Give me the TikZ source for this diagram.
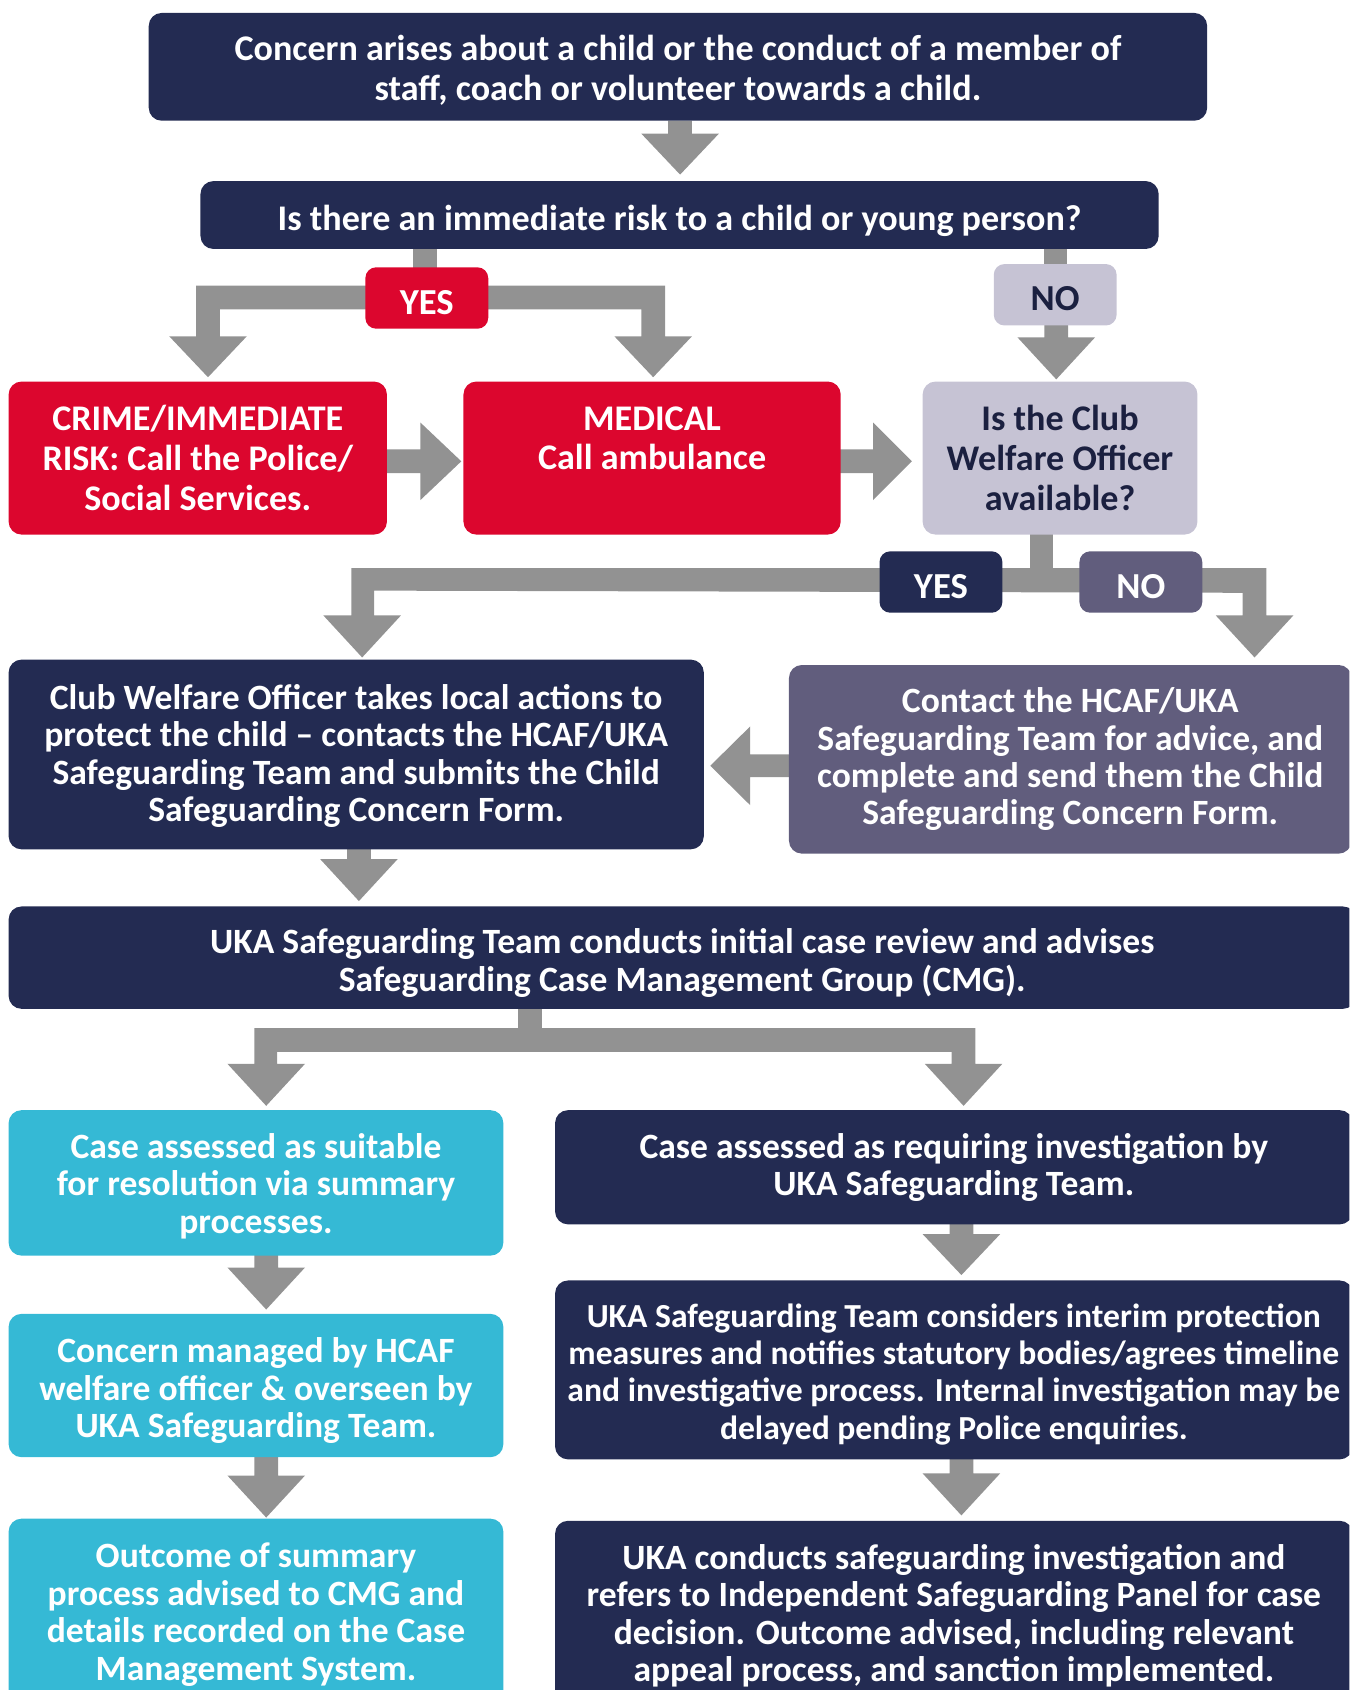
\documentclass[tikz,border=0pt]{standalone}
\usepackage{fontspec}
\setmainfont{Carlito}
\definecolor{navy}{HTML}{232B52}
\definecolor{ured}{HTML}{DC062E}
\definecolor{lav}{HTML}{C6C3D4}
\definecolor{purp}{HTML}{615D7D}
\definecolor{cyanb}{HTML}{35B9D5}
\definecolor{agray}{HTML}{929292}
\definecolor{darktxt}{HTML}{1B2040}
\newcommand{\darrow}[4]{\fill[agray] (#1-11,#2) -- (#1+11,#2) -- (#1+11,#3) -- (#1+36,#3) -- (#1,#4) -- (#1-36,#3) -- (#1-11,#3) -- cycle;}
\begin{document}
\begin{tikzpicture}[x=1pt,y=-1pt,
  box/.style={rounded corners=12pt, inner sep=0pt, align=center, text=white,
     font=\bfseries\fontsize{33}{34.7}\selectfont},
  bigbox/.style={box, font=\bfseries\fontsize{33.5}{37}\selectfont},
  badge/.style={box, rounded corners=10pt, minimum width=114pt, minimum height=57pt, font=\bfseries\fontsize{34}{37}\selectfont},
  btext/.style={inner sep=0pt, align=center, text=white, font=\bfseries\fontsize{33}{34.7}\selectfont},
  bigtext/.style={btext, font=\bfseries\fontsize{33.5}{37}\selectfont},
  badgetext/.style={btext, font=\bfseries\fontsize{34}{37}\selectfont}]
\useasboundingbox (0,0) rectangle (1252,1568);
\clip (0,0) rectangle (1252,1568);
% ---------- connectors (block arrows) ----------
\darrow{631}{112}{124}{162}
% YES branch
\fill[agray] (383,225) rectangle (405,260);
\fill[agray] (182,265) -- (617,265) -- (617,312) -- (642,312) -- (606,350) -- (570,312) -- (595,312) -- (595,287) -- (204,287) -- (204,312) -- (229,312) -- (193,350) -- (157,312) -- (182,312) -- cycle;
% NO branch
\fill[agray] (969,225) rectangle (990,260);
\darrow{980}{295}{313}{352}
% horizontal arrows in row
\fill[agray] (355,417) -- (390,417) -- (390,392) -- (428,428) -- (390,464) -- (390,439) -- (355,439) -- cycle;
\fill[agray] (776,417) -- (810,417) -- (810,392) -- (846,428) -- (810,464) -- (810,439) -- (776,439) -- cycle;
% CWO split
\fill[agray] (956,490) rectangle (977,540);
\fill[agray] (326,527) -- (1175,527) -- (1175,571) -- (1200,571) -- (1164,610) -- (1128,571) -- (1153,571) -- (1153,550) -- (347,548) -- (347,571) -- (372,571) -- (336,610) -- (300,571) -- (326,571) -- cycle;
% contact -> action
\fill[agray] (740,700) -- (696,700) -- (696,674) -- (659,710.5) -- (696,747) -- (696,721) -- (740,721) -- cycle;
\darrow{333}{784}{797}{836}
% review split
\fill[agray] (481,930) rectangle (503,960);
\fill[agray] (236,954) -- (905,954) -- (905,987) -- (930,987) -- (894,1026) -- (858,987) -- (883,987) -- (883,976) -- (257,976) -- (257,987) -- (283,987) -- (247,1026) -- (211,987) -- (236,987) -- cycle;
\darrow{247}{1160}{1176}{1215}
\darrow{247}{1348}{1369}{1408}
\darrow{892}{1130}{1145}{1183}
\darrow{892}{1350}{1367}{1406}
% ---------- nodes ----------
\node[box, fill=navy, minimum width=982pt, minimum height=100pt,
  label={[bigtext, yshift=-3pt]center:{Concern arises about a child or the conduct of a member of\\staff, coach or volunteer towards a child.}}] (concern) at (629,62) {};
\node[box, fill=navy, minimum width=889pt, minimum height=63pt,
  label={[bigtext, yshift=-5pt]center:{Is there an immediate risk to a child or young person?}}] (risk) at (630.5,199.5) {};
\node[badge, fill=ured, label={[badgetext, yshift=-4pt]center:{YES}}] (yes1) at (396,276.5) {};
\node[badge, fill=lav, label={[badgetext, text=darktxt, yshift=-4pt]center:{NO}}] (no1) at (979,273.5) {};
\node[bigbox, fill=ured, minimum width=351pt, minimum height=142pt] (crime) at (183.5,425)
  {CRIME/IMMEDIATE\\RISK: Call the Police/\\Social Services.};
\node[bigbox, fill=ured, minimum width=350pt, minimum height=142pt] (medical) at (605,425)
  {MEDICAL\\Call ambulance\\\mbox{}};
\node[bigbox, fill=lav, text=darktxt, minimum width=255pt, minimum height=142pt] (cwo) at (983.5,425)
  {Is the Club\\Welfare Officer\\available?};
\node[badge, fill=navy, label={[badgetext, yshift=-4pt]center:{YES}}] (yes2) at (873,540) {};
\node[badge, fill=purp, label={[badgetext, yshift=-4pt]center:{NO}}] (no2) at (1058.5,540) {};
\node[box, fill=navy, minimum width=645pt, minimum height=176pt,
  label={[btext, yshift=-1.5pt]center:{Club Welfare Officer takes local actions to\\protect the child -- contacts the HCAF/UKA\\Safeguarding Team and submits the Child\\Safeguarding Concern Form.}}] (action) at (330.5,700) {};
\node[box, fill=purp, minimum width=522pt, minimum height=175pt] (contact) at (993,704.5)
  {Contact the HCAF/UKA\\Safeguarding Team for advice, and\\complete and send them the Child\\Safeguarding Concern Form.};
\node[box, fill=navy, minimum width=1250pt, minimum height=95pt,
  label={[btext, yshift=-5pt]center:{UKA Safeguarding Team conducts initial case review and advises\\Safeguarding Case Management Group (CMG).}}] (review) at (633,888.5) {};
\node[box, fill=cyanb, minimum width=459pt, minimum height=135pt,
  label={[btext, yshift=-3pt]center:{Case assessed as suitable\\for resolution via summary\\processes.}}] (summary) at (237.5,1097.5) {};
\node[box, fill=navy, minimum width=740pt, minimum height=106pt] (invest) at (885,1083)
  {Case assessed as requiring investigation by\\UKA Safeguarding Team.};
\node[box, fill=cyanb, minimum width=459pt, minimum height=133pt,
  label={[btext, yshift=-5pt]center:{Concern managed by HCAF\\welfare officer \& overseen by\\UKA Safeguarding Team.}}] (managed) at (237.5,1285.5) {};
\node[box, fill=navy, minimum width=740pt, minimum height=166pt,
  label={[btext, font=\bfseries\fontsize{31.2}{34.7}\selectfont, yshift=-4pt]center:{UKA Safeguarding Team considers interim protection\\measures and notifies statutory bodies/agrees timeline\\and investigative process. Internal investigation may be\\delayed pending Police enquiries.}}] (interim) at (885,1271) {};
\node[box, fill=cyanb, minimum width=459pt, minimum height=172pt,
  label={[btext, yshift=-3pt]center:{Outcome of summary\\process advised to CMG and\\details recorded on the Case\\Management System.}}] (outcome) at (237.5,1495) {};
\node[box, fill=navy, minimum width=740pt, minimum height=172pt,
  label={[btext, yshift=-2pt]center:{UKA conducts safeguarding investigation and\\refers to Independent Safeguarding Panel for case\\decision. Outcome advised, including relevant\\appeal process, and sanction implemented.}}] (conducts) at (885,1497) {};
\end{tikzpicture}
\end{document}
